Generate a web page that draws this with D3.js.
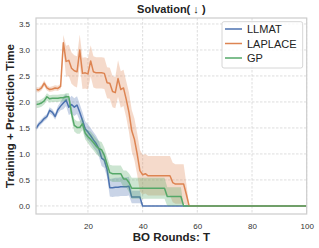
<!DOCTYPE html>
<html><head><meta charset="utf-8">
<script src="https://cdn.jsdelivr.net/npm/d3@7"></script>
<style>html,body{margin:0;padding:0;background:#fff}svg{display:block}</style>
</head><body>
<script>
const rounds = [1,2,3,4,5,6,7,8,9,10,11,12,13,14,15,16,17,18,19,20,21,22,23,24,25,26,27,28,29,30,31,32,33,34,35,36,37,38,39,40,41,42,43,44,45,46,47,48,49,50,51,52,53,54,55,56,57,58,59,60,61,62,63,64,65,66,67,68,69,70,71,72,73,74,75,76,77,78,79,80,81,82,83,84,85,86,87,88,89,90,91,92,93,94,95,96,97,98,99,100];
const zeros40 = [0,0,0,0,0,0,0,0,0,0,0,0,0,0,0,0,0,0,0,0,0,0,0,0,0,0,0,0,0,0,0,0,0,0,0,0,0,0,0,0];
const llmatMean = [1.49,1.57,1.62,1.68,1.72,1.84,1.80,1.72,1.85,1.92,
  1.98,2.04,1.90,1.95,1.90,1.94,1.80,1.65,1.48,1.42,
  1.35,1.27,1.20,1.10,0.92,0.88,0.70,0.35,0.35,0.36,
  0.36,0.37,0.37,0.37,0.38,0.17,0.17,0.17,0.17,0,
  0,0,0,0,0,0,0,0,0,0, 0,0,0,0,0,0,0,0,0,0].concat(zeros40);
const llmatStd = [0.05,0.05,0.05,0.05,0.05,0.06,0.06,0.06,0.07,0.08,
  0.12,0.12,0.15,0.17,0.17,0.17,0.16,0.15,0.15,0.15,
  0.15,0.15,0.15,0.15,0.15,0.15,0.15,0.17,0.18,0.18,
  0.18,0.18,0.18,0.18,0.18,0.12,0.12,0.12,0.12,0,
  0,0,0,0,0,0,0,0,0,0, 0,0,0,0,0,0,0,0,0,0].concat(zeros40);
const laplaceMean = [2.24,2.23,2.27,2.36,2.27,2.24,2.25,2.27,2.26,2.30,
  3.14,2.78,2.80,2.65,2.60,2.58,3.00,2.55,2.56,2.54,
  2.79,2.58,2.56,2.56,2.56,2.55,2.37,2.36,2.20,2.18,
  2.45,2.24,2.27,2.05,1.80,1.45,1.28,1.00,0.68,0.60,
  0.62,0.58,0.58,0.58,0.58,0.58,0.58,0.58,0.58,0.58,
  0.45,0.42,0.42,0.42,0.42,0.22,0,0,0,0].concat(zeros40);
const laplaceStd = [0.05,0.05,0.05,0.06,0.05,0.05,0.05,0.05,0.05,0.05,
  0.15,0.30,0.30,0.30,0.30,0.30,0.30,0.30,0.30,0.30,
  0.30,0.30,0.30,0.30,0.30,0.30,0.30,0.30,0.30,0.30,
  0.35,0.35,0.35,0.35,0.38,0.40,0.40,0.40,0.40,0.38,
  0.38,0.38,0.38,0.38,0.38,0.38,0.38,0.38,0.38,0.38,
  0.38,0.38,0.38,0.38,0.38,0.20,0,0,0,0].concat(zeros40);
const gpMean = [1.95,1.96,1.98,2.02,2.10,2.06,2.07,2.07,2.07,2.08,
  2.08,2.10,2.10,1.78,1.55,1.51,1.51,1.58,1.40,1.33,
  1.28,1.22,1.15,1.10,1.08,0.97,0.80,0.64,0.62,0.62,
  0.62,0.62,0.52,0.52,0.45,0.34,0.34,0.34,0.34,0.34,
  0.34,0.34,0.34,0.34,0.34,0.34,0.34,0.34,0.18,0.18,
  0.18,0.18,0.18,0.18,0,0,0,0,0,0].concat(zeros40);
const gpStd = [0.07,0.07,0.07,0.07,0.07,0.07,0.07,0.07,0.07,0.07,
  0.07,0.07,0.07,0.12,0.12,0.12,0.12,0.12,0.12,0.12,
  0.15,0.15,0.15,0.15,0.15,0.15,0.15,0.15,0.16,0.16,
  0.16,0.16,0.16,0.16,0.18,0.20,0.20,0.20,0.20,0.20,
  0.20,0.20,0.20,0.20,0.20,0.20,0.20,0.20,0.18,0.18,
  0.18,0.18,0.18,0.18,0,0,0,0,0,0].concat(zeros40);

const seriesNames = ["LLMAT","LAPLACE","GP"];
const seriesColors = ["#4c72b0","#dd8452","#55a868"];
const xTicks = [20,40,60,80,100];
const yTicks = [0,0.5,1.0,1.5,2.0,2.5,3.0,3.5];
const titleText = "Solvation( \u2193 )";
const xLabel = "BO Rounds: T";
const yLabel = "Training + Prediction Time";

const W = 319, H = 248;
const L = 36, R = 306.7, T = 18, B = 214;
const font = "'Liberation Sans', Arial, sans-serif";

const svg = d3.select("body").append("svg").attr("width", W).attr("height", H);
const x = d3.scaleLinear().domain([1,100]).range([L,R]);
const y = d3.scaleLinear().domain([-0.155,3.615]).range([B,T]);

// grid
const grid = svg.append("g");
grid.selectAll("line.gx").data(xTicks).join("line")
  .attr("x1", d=>x(d)).attr("x2", d=>x(d)).attr("y1", T).attr("y2", B)
  .attr("stroke", "#d5d5d5").attr("stroke-width", 0.8).attr("stroke-dasharray","2.5,1.5");
grid.selectAll("line.gy").data(yTicks).join("line")
  .attr("x1", L).attr("x2", R).attr("y1", d=>y(d)).attr("y2", d=>y(d))
  .attr("stroke", "#d5d5d5").attr("stroke-width", 0.8).attr("stroke-dasharray","2.5,1.5");

const means = [llmatMean, laplaceMean, gpMean];
const stds = [llmatStd, laplaceStd, gpStd];

const plot = svg.append("g");
means.forEach((m,i)=>{
  const s = stds[i];
  const pts = rounds.map((r,j)=>({r, m:m[j], s:s[j]}));
  const area = d3.area().x(d=>x(d.r)).y0(d=>y(d.m - d.s)).y1(d=>y(d.m + d.s));
  plot.append("path").attr("d", area(pts)).attr("fill", seriesColors[i]).attr("fill-opacity", 0.3);
  const line = d3.line().x(d=>x(d.r)).y(d=>y(d.m));
  plot.append("path").attr("d", line(pts)).attr("fill","none")
    .attr("stroke", seriesColors[i]).attr("stroke-width", 1.5).attr("stroke-linejoin","round");
});

// frame
svg.append("rect").attr("x", L).attr("y", T).attr("width", R-L).attr("height", B-T)
  .attr("fill","none").attr("stroke","#cccccc").attr("stroke-width",1.2);

// tick labels via axes
const xAxis = d3.axisBottom(x).tickValues(xTicks).tickSize(0).tickPadding(9).tickFormat(d3.format("d"));
const gx = svg.append("g").attr("transform",`translate(0,${B})`).call(xAxis);
gx.select(".domain").remove();
gx.selectAll("text").attr("font-family", font).attr("font-size", 8).attr("fill","#333");

const yAxis = d3.axisLeft(y).tickValues(yTicks).tickSize(0).tickPadding(6).tickFormat(d3.format(".1f"));
const gy = svg.append("g").attr("transform",`translate(${L},0)`).call(yAxis);
gy.select(".domain").remove();
gy.selectAll("text").attr("font-family", font).attr("font-size", 8).attr("fill","#333");

// title and labels
svg.append("text").attr("x", (L+R)/2).attr("y", 13).attr("text-anchor","middle")
  .attr("font-family", font).attr("font-weight","bold").attr("font-size", 11).attr("fill","#222").text(titleText);
svg.append("text").attr("x", (L+R)/2).attr("y", 241).attr("text-anchor","middle")
  .attr("font-family", font).attr("font-weight","bold").attr("font-size", 11.5).attr("fill","#222").text(xLabel);
svg.append("text").attr("transform", `translate(13.5,${(T+B)/2}) rotate(-90)`).attr("text-anchor","middle")
  .attr("font-family", font).attr("font-weight","bold").attr("font-size", 11.5).attr("fill","#222").text(yLabel);

// legend
const lg = svg.append("g");
lg.append("rect").attr("x", 222).attr("y", 21.7).attr("width", 80.7).attr("height", 46.3).attr("rx", 2)
  .attr("fill","#fff").attr("fill-opacity",0.8).attr("stroke","#cccccc").attr("stroke-width",0.8);
seriesNames.forEach((n,i)=>{
  const cy = 29 + i*14.5;
  lg.append("line").attr("x1",225).attr("x2",242).attr("y1",cy).attr("y2",cy)
    .attr("stroke", seriesColors[i]).attr("stroke-width",1.5);
  lg.append("text").attr("x",247).attr("y",cy+4).attr("font-family",font).attr("font-size",11)
    .attr("fill","#222").text(n);
});
</script>
</body></html>
